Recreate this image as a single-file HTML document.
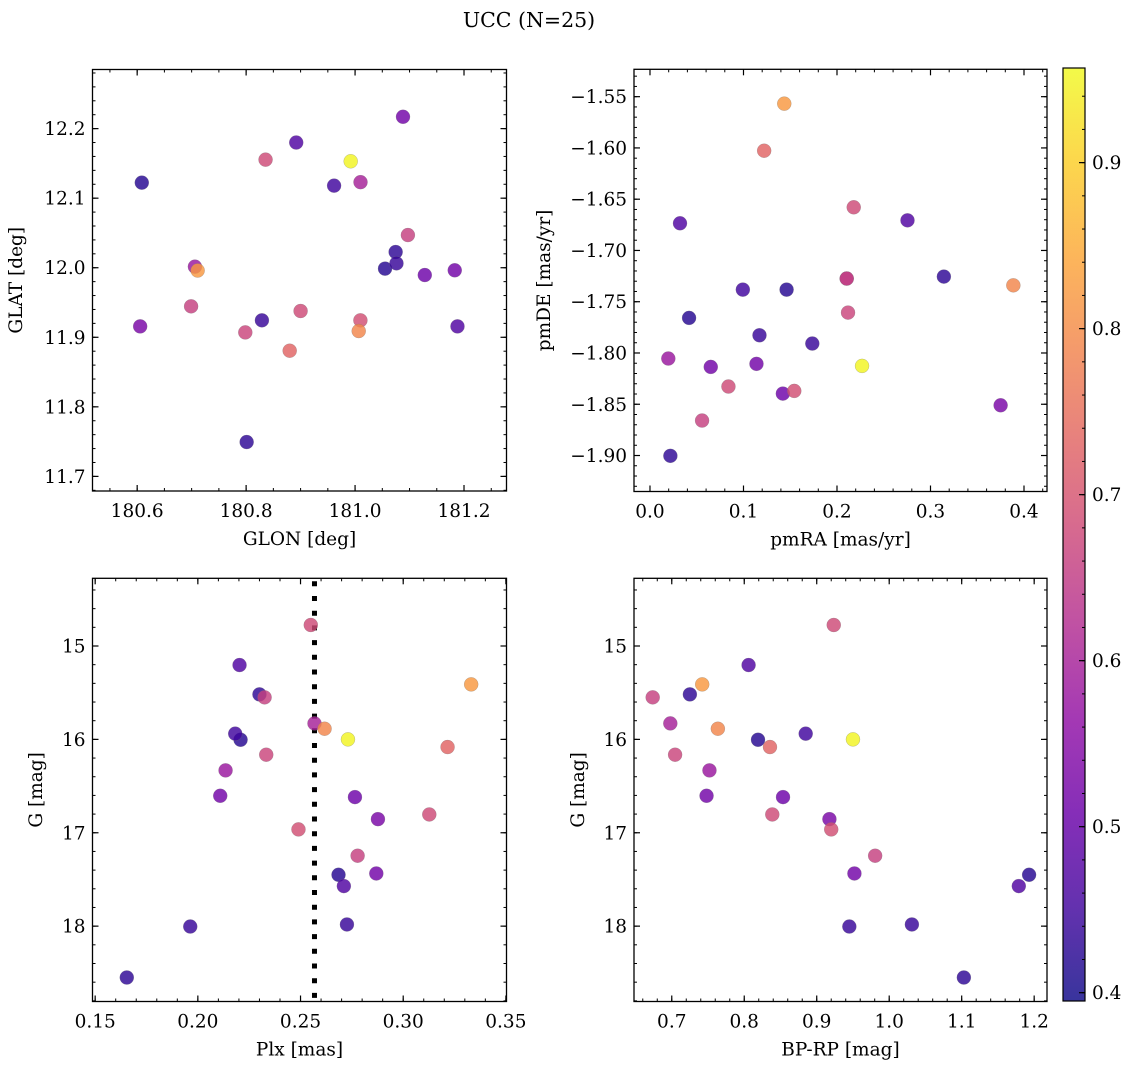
<!DOCTYPE html>
<html><head><meta charset="utf-8">
<style>
html,body{margin:0;padding:0;background:#fff;}
svg{display:block;font-family:"DejaVu Serif","Liberation Serif",serif;}
</style></head>
<body>
<svg id="fig" width="1136" height="1068" viewBox="0 0 1136 1068" xmlns="http://www.w3.org/2000/svg">
<text x="529" y="27" font-size="20.5" text-anchor="middle">UCC (N=25)</text>
</svg>
<script>
// ---- data (one entry per star) ----
const glon = [180.8357,180.892,180.711,181.0745,180.699,181.010,181.0067,180.9615,180.992,180.6085,180.880,180.7985,180.706,181.088,181.128,180.6055,180.900,181.0098,181.097,181.055,181.183,181.188,181.076,180.829,180.801];
const glat = [12.1554,12.180,11.996,12.0226,11.9445,12.123,11.909,12.118,12.153,12.1223,11.8807,11.907,12.0015,12.217,11.9895,11.9157,11.9378,11.9244,12.047,11.9987,11.9963,11.9157,12.0063,11.9244,11.7494];
const pmra = [0.2179,0.2754,0.1436,0.3143,0.2104,0.2104,0.3886,0.0993,0.2268,0.1461,0.1221,0.2118,0.0196,0.1139,0.1421,0.375,0.0839,0.1543,0.0557,0.0418,0.065,0.0321,0.1171,0.1736,0.0218];
const pmde = [-1.6579,-1.6706,-1.5568,-1.7255,-1.7274,-1.7274,-1.734,-1.7382,-1.8126,-1.7382,-1.6027,-1.7606,-1.8054,-1.8106,-1.8396,-1.851,-1.8327,-1.837,-1.8659,-1.7658,-1.8136,-1.6735,-1.7827,-1.7908,-1.9003];
const plx = [0.2550,0.2203,0.3331,0.2300,0.2325,0.2568,0.2617,0.2182,0.2731,0.2208,0.3216,0.2333,0.2135,0.2109,0.2765,0.2877,0.3127,0.2490,0.2778,0.2685,0.2869,0.2711,0.2726,0.1963,0.1654];
const gmag = [14.775,15.204,15.411,15.518,15.55,15.829,15.886,15.939,16.0,16.004,16.082,16.164,16.332,16.604,16.618,16.854,16.804,16.964,17.246,17.45,17.436,17.571,17.982,18.004,18.55];
const bprp = [0.9235,0.806,0.742,0.725,0.6737,0.698,0.7636,0.8848,0.950,0.819,0.8355,0.7046,0.752,0.748,0.8535,0.9175,0.8387,0.920,0.9806,1.193,0.952,1.1788,1.0313,0.945,1.103];
const prob = [0.68,0.47,0.82,0.43,0.66,0.60,0.79,0.45,0.95,0.42,0.73,0.67,0.58,0.52,0.51,0.53,0.68,0.69,0.66,0.42,0.52,0.47,0.44,0.44,0.43];
const plxLine = [0.2568];
const cbTicks = [0.4,0.5,0.6,0.7,0.8,0.9];
const VMIN = 0.395, VMAX = 0.957;

const NS = "http://www.w3.org/2000/svg";
const svg = document.getElementById('fig');
const FS = 18.5;
function el(tag, attrs, parent){ const e=document.createElementNS(NS,tag); for(const k in attrs) e.setAttribute(k,attrs[k]); (parent||svg).appendChild(e); return e; }

const plasma = ["#0d0887","#41049d","#6a00a8","#8f0da4","#b12a90","#cc4778","#e16462","#f2844b","#fca636","#fcce25","#f0f921"];
function hex2rgb(h){return [parseInt(h.substr(1,2),16),parseInt(h.substr(3,2),16),parseInt(h.substr(5,2),16)];}
function cmap(v){
  let t=(v-VMIN)/(VMAX-VMIN); t=Math.max(0,Math.min(1,t));
  const s=t*10, i=Math.min(9,Math.floor(s)), f=s-i;
  const a=hex2rgb(plasma[i]), b=hex2rgb(plasma[i+1]);
  return 'rgb('+a.map((x,j)=>Math.round(x+(b[j]-x)*f)).join(',')+')';
}
function fmt(v,d){ const s=Math.abs(v).toFixed(d); return (v< -1e-9?'\u2212':'')+s; }

function makeAxes(o){
  const g = el('g',{});
  
  
  const sx = v => o.x0 + (v-o.xmin)/(o.xmax-o.xmin)*(o.x1-o.x0);
  const sy = o.inv ? (v => o.y0 + (v-o.ymin)/(o.ymax-o.ymin)*(o.y1-o.y0))
                   : (v => o.y1 - (v-o.ymin)/(o.ymax-o.ymin)*(o.y1-o.y0));
  function ticks(min,max,step){ const r=[]; for(let k=Math.ceil(min/step-1e-6);k<=Math.floor(max/step+1e-6);k++) r.push(k*step); return r; }
  ticks(o.xmin,o.xmax,o.xMinor).forEach(v=>{ const x=sx(v);
    el('line',{x1:x,x2:x,y1:o.y1,y2:o.y1-3,stroke:'#000','stroke-width':1},g);
    el('line',{x1:x,x2:x,y1:o.y0,y2:o.y0+3,stroke:'#000','stroke-width':1},g);});
  ticks(o.ymin,o.ymax,o.yMinor).forEach(v=>{ const y=sy(v);
    el('line',{x1:o.x0,x2:o.x0+3,y1:y,y2:y,stroke:'#000','stroke-width':1},g);
    el('line',{x1:o.x1,x2:o.x1-3,y1:y,y2:y,stroke:'#000','stroke-width':1},g);});
  ticks(o.xmin,o.xmax,o.xMajor).forEach(v=>{ const x=sx(v);
    el('line',{x1:x,x2:x,y1:o.y1,y2:o.y1-6,stroke:'#000','stroke-width':1.2},g);
    el('line',{x1:x,x2:x,y1:o.y0,y2:o.y0+6,stroke:'#000','stroke-width':1.2},g);
    const t=el('text',{x:x,y:o.y1+26,'font-size':FS,'text-anchor':'middle'},g); t.textContent=fmt(v,o.xd);
    
    
  });
  ticks(o.ymin,o.ymax,o.yMajor).forEach(v=>{ const y=sy(v);
    el('line',{x1:o.x0,x2:o.x0+6,y1:y,y2:y,stroke:'#000','stroke-width':1.2},g);
    el('line',{x1:o.x1,x2:o.x1-6,y1:y,y2:y,stroke:'#000','stroke-width':1.2},g);
    const t=el('text',{x:o.x0-7,y:y+6.5,'font-size':FS,'text-anchor':'end'},g); t.textContent=fmt(v,o.yd);
    
    
  });
  const xl=el('text',{x:(o.x0+o.x1)/2,y:o.y1+54,'font-size':FS,'text-anchor':'middle'},g); xl.textContent=o.xlabel;
  
  
  const yc=(o.y0+o.y1)/2;
  const yl=el('text',{x:o.ylx,y:yc,'font-size':FS,'text-anchor':'middle',transform:'rotate(-90 '+o.ylx+' '+yc+')'},g); yl.textContent=o.ylabel;
  
  
  return {g,sx,sy,o};
}
function scatter(ax, xs, ys){
  const order = prob.map((p,i)=>i).sort((a,b)=>prob[a]-prob[b]);
  order.forEach(i=>{
    const c=el('circle',{cx:ax.sx(xs[i]),cy:ax.sy(ys[i]),r:7,fill:cmap(prob[i]),'fill-opacity':0.82,stroke:'#777','stroke-width':0.4,'stroke-opacity':0.6},ax.g);
    
    
  });
}
function frame(ax){ const o=ax.o;
  const r=el('rect',{x:o.x0,y:o.y0,width:o.x1-o.x0,height:o.y1-o.y0,fill:'none',stroke:'#000','stroke-width':1.3},ax.g);
  
  
}

const a1=makeAxes({name:'glon-glat-panel',x0:92.5,x1:506.5,y0:69.5,y1:491,xmin:180.518,xmax:181.278,ymin:11.679,ymax:12.285,xMajor:0.2,xMinor:0.05,yMajor:0.1,yMinor:0.02,xd:1,yd:1,xlabel:'GLON [deg]',ylabel:'GLAT [deg]',ylx:22});
scatter(a1,glon,glat); frame(a1);

const a2=makeAxes({name:'pm-panel',x0:634,x1:1047,y0:69.3,y1:491.5,xmin:-0.0171,xmax:0.4246,ymin:-1.9351,ymax:-1.5233,xMajor:0.1,xMinor:0.02,yMajor:0.05,yMinor:0.01,xd:1,yd:2,xlabel:'pmRA [mas/yr]',ylabel:'pmDE [mas/yr]',ylx:550});
scatter(a2,pmra,pmde); frame(a2);

const a3=makeAxes({name:'plx-g-panel',x0:92.5,x1:506.5,y0:578.3,y1:1001.5,xmin:0.1487,xmax:0.3503,ymin:14.275,ymax:18.807,inv:true,xMajor:0.05,xMinor:0.01,yMajor:1,yMinor:0.2,xd:2,yd:0,xlabel:'Plx [mas]',ylabel:'G [mag]',ylx:42});
plxLine.forEach(v=>{ const x=a3.sx(v);
  const ln=el('line',{x1:x,x2:x,y1:a3.o.y0+3,y2:a3.o.y1,stroke:'#000','stroke-width':5,'stroke-dasharray':'5,9.7'},a3.g);
  
  
});
scatter(a3,plx,gmag); frame(a3);

const a4=makeAxes({name:'cmd-panel',x0:634,x1:1047,y0:578.3,y1:1001.5,xmin:0.6479,xmax:1.2177,ymin:14.275,ymax:18.807,inv:true,xMajor:0.1,xMinor:0.02,yMajor:1,yMinor:0.2,xd:1,yd:0,xlabel:'BP-RP [mag]',ylabel:'G [mag]',ylx:584});
scatter(a4,bprp,gmag); frame(a4);

const cb=el('g',{});


const cbx0=1063,cbx1=1085,cby0=68,cby1=1001;
const defs=el('defs',{},cb);
const grad=el('linearGradient',{id:'cbg',x1:0,y1:1,x2:0,y2:0},defs);
plasma.forEach((c,i)=>el('stop',{offset:(i*10)+'%','stop-color':c},grad));
el('rect',{x:cbx0,y:cby0,width:cbx1-cbx0,height:cby1-cby0,fill:'url(#cbg)','fill-opacity':0.82},cb);
el('rect',{x:cbx0,y:cby0,width:cbx1-cbx0,height:cby1-cby0,fill:'none',stroke:'#000','stroke-width':1.2},cb);
const cy=v=>cby1-(v-VMIN)/(VMAX-VMIN)*(cby1-cby0);
for(let k=20;k<=47;k++){ const v=k*0.02; if(v<VMIN||v>VMAX) continue;
  el('line',{x1:cbx1,x2:cbx1-3,y1:cy(v),y2:cy(v),stroke:'#000','stroke-width':1},cb);}
cbTicks.forEach(v=>{ const y=cy(v);
  el('line',{x1:cbx1,x2:cbx1-6,y1:y,y2:y,stroke:'#000','stroke-width':1.2},cb);
  const t=el('text',{x:cbx1+7,y:y+6.5,'font-size':FS},cb); t.textContent=v.toFixed(1);
  
  
});
</script>
</body></html>
